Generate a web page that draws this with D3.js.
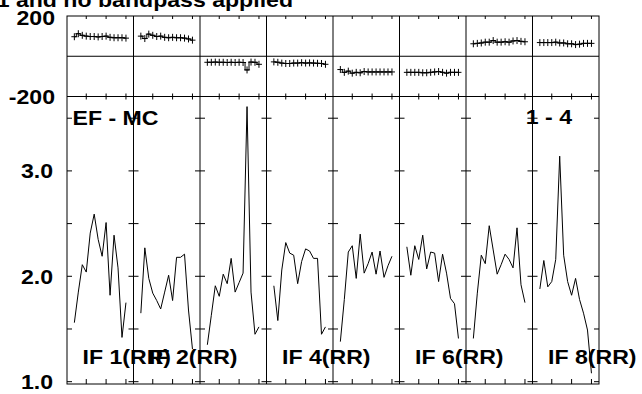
<!DOCTYPE html>
<html><head><meta charset="utf-8">
<script src="https://cdn.jsdelivr.net/npm/d3@7"></script>
<style>html,body{margin:0;padding:0;background:#fff;}svg{display:block;}</style>
</head><body>
<svg id="c" width="642" height="394"></svg>
<script>
// ---- data ----
const titleText = "Calibrated with CL 1 and no bandpass applied";
const channels = [2, 3, 4, 5, 6, 7, 8, 9, 10, 11, 12, 13, 14, 15];
const channelTicks = [5, 10, 15];
const ifNames = ["IF 1(RR)", "IF 2(RR)", "IF 3(RR)", "IF 4(RR)", "IF 5(RR)", "IF 6(RR)", "IF 7(RR)", "IF 8(RR)"];
const ifLabelShown = [true, true, false, true, false, true, false, true];
const ampTicks = [1.0, 1.5, 2.0, 2.5, 3.0, 3.5];
const ampTickLabels = ["1.0", "2.0", "3.0"];
const phaseTickLabels = ["200", "-200"];
const amp1 = [1.56, 1.85, 2.11, 2.04, 2.41, 2.59, 2.35, 2.19, 2.51, 1.82, 2.39, 2.08, 1.42, 1.75];
const amp2 = [1.65, 2.27, 1.98, 1.84, 1.77, 1.69, 1.85, 2.01, 1.77, 2.18, 2.18, 2.21, 1.68, 1.31];
const amp3 = [1.35, 1.63, 1.91, 1.81, 2.02, 1.93, 2.17, 1.85, 1.94, 2.03, 3.61, 1.85, 1.45, 1.52];
const amp4 = [1.91, 1.58, 2.06, 2.32, 2.22, 2.20, 1.93, 2.14, 2.26, 2.24, 2.17, 2.17, 1.45, 1.52];
const amp5 = [1.38, 1.78, 2.23, 2.29, 1.98, 2.40, 2.03, 2.12, 2.23, 2.02, 2.24, 1.99, 2.10, 2.19];
const amp6 = [2.28, 2.01, 2.29, 2.16, 2.39, 2.07, 2.23, 2.22, 1.95, 2.21, 2.03, 1.79, 1.74, 1.41];
const amp7 = [1.41, 1.84, 2.20, 2.12, 2.48, 2.25, 2.02, 2.11, 2.21, 2.16, 2.08, 2.46, 1.92, 1.75];
const amp8 = [1.88, 2.15, 1.90, 1.95, 2.16, 3.14, 2.20, 1.95, 1.82, 1.98, 1.78, 1.65, 1.49, 1.08];
const ph1 = [97, 112, 104, 100, 98, 98, 96, 98, 100, 94, 92, 92, 92, 90];
const ph2 = [100, 88, 110, 104, 98, 100, 94, 92, 94, 92, 92, 90, 86, 80];
const ph3 = [-30, -30, -29, -30, -30, -31, -30, -31, -30, -31, -68, -29, -30, -40];
const ph4 = [-28, -30, -34, -36, -36, -34, -34, -32, -34, -33, -34, -35, -36, -40];
const ph5 = [-66, -80, -74, -84, -80, -82, -76, -78, -78, -78, -78, -78, -78, -78];
const ph6 = [-80, -80, -80, -80, -82, -82, -80, -78, -76, -80, -84, -80, -80, -80];
const ph7 = [62, 64, 66, 70, 70, 78, 70, 70, 72, 70, 76, 78, 74, 72];
const ph8 = [68, 68, 68, 68, 70, 66, 66, 62, 62, 58, 60, 64, 64, 64];
const amps = [amp1, amp2, amp3, amp4, amp5, amp6, amp7, amp8];
const phases = [ph1, ph2, ph3, ph4, ph5, ph6, ph7, ph8];
const cornerLeft = "EF - MC";
const cornerRight = "1 - 4";

// ---- layout ----
const L = 67, R = 599, T = 16, M = 96.5, B = 384;
const pw = (R - L) / ifNames.length;
const svg = d3.select("#c");
const font = "'Liberation Sans', Arial, Helvetica, sans-serif";
const SX = 1.1;

const panelX = d3.scaleBand().domain(d3.range(ifNames.length)).range([L, R]).padding(0);
const xIn = d3.scaleLinear().domain([0.15, 16.9]).range([0, pw]);
const yA = d3.scaleLinear().domain([0.978, 3.706]).range([B, M]);
const yP = d3.scaleLinear().domain([-200, 200]).range([M, T]);

function txt(x, y, s, anchor, size) {
  svg.append("text")
    .attr("transform", `translate(${x},${y}) scale(${SX},1)`)
    .attr("text-anchor", anchor)
    .attr("font-family", font).attr("font-weight", "bold")
    .attr("font-size", size || 21).attr("fill", "#000").text(s);
}

// title (partly cut off at top)
txt(293, 6.5, titleText, "end", 21);

const g = svg.append("g").attr("stroke", "#000").attr("fill", "none").attr("stroke-width", 1);

// frames
g.append("rect").attr("x", L).attr("y", T).attr("width", R - L).attr("height", B - T);
g.append("line").attr("x1", L).attr("x2", R).attr("y1", M).attr("y2", M);
g.append("line").attr("x1", L).attr("x2", R).attr("y1", yP(0)).attr("y2", yP(0));

ifNames.forEach((name, i) => {
  const x0 = panelX(i);
  if (i > 0) g.append("line").attr("x1", x0).attr("x2", x0).attr("y1", T).attr("y2", B);
  // x ticks
  channelTicks.forEach(c => {
    const x = x0 + xIn(c);
    g.append("line").attr("x1", x).attr("x2", x).attr("y1", T).attr("y2", T + 3);
    g.append("line").attr("x1", x).attr("x2", x).attr("y1", M - 3).attr("y2", M + 3);
    g.append("line").attr("x1", x).attr("x2", x).attr("y1", B).attr("y2", B - 5);
  });
  // y ticks on amplitude section at each panel boundary
  ampTicks.forEach(v => {
    const y = yA(v);
    const left = i === 0 ? x0 : x0 - 5;
    g.append("line").attr("x1", left).attr("x2", x0 + 5).attr("y1", y).attr("y2", y);
  });
  // amplitude line
  const line = d3.line().x((d, k) => x0 + xIn(channels[k])).y(d => yA(d));
  g.append("path").attr("d", line(amps[i]));
  // phase step line + plus markers
  const pline = d3.line().curve(d3.curveStep).x((d, k) => x0 + xIn(channels[k])).y(d => yP(d));
  g.append("path").attr("d", pline(phases[i]));
  phases[i].forEach((d, k) => {
    const x = x0 + xIn(channels[k]), y = yP(d);
    g.append("line").attr("x1", x - 3).attr("x2", x + 3).attr("y1", y).attr("y2", y);
    g.append("line").attr("x1", x).attr("x2", x).attr("y1", y - 3.5).attr("y2", y + 3.5);
  });
});
// right edge inward ticks
ampTicks.forEach(v => {
  g.append("line").attr("x1", R - 5).attr("x2", R).attr("y1", yA(v)).attr("y2", yA(v));
});

// y labels
ampTickLabels.forEach(s => txt(53, yA(+s) + 7.5, s, "end"));
txt(55, yP(200) + 8.5, phaseTickLabels[0], "end");
txt(55, yP(-200) + 7.5, phaseTickLabels[1], "end");

// corner labels
txt(72.5, 124.5, cornerLeft, "start");
txt(572, 123.5, cornerRight, "end");

// IF labels
ifNames.forEach((name, i) => {
  if (ifLabelShown[i]) txt(panelX(i) + 15.5, 363.5, name, "start");
});
</script>
</body></html>
